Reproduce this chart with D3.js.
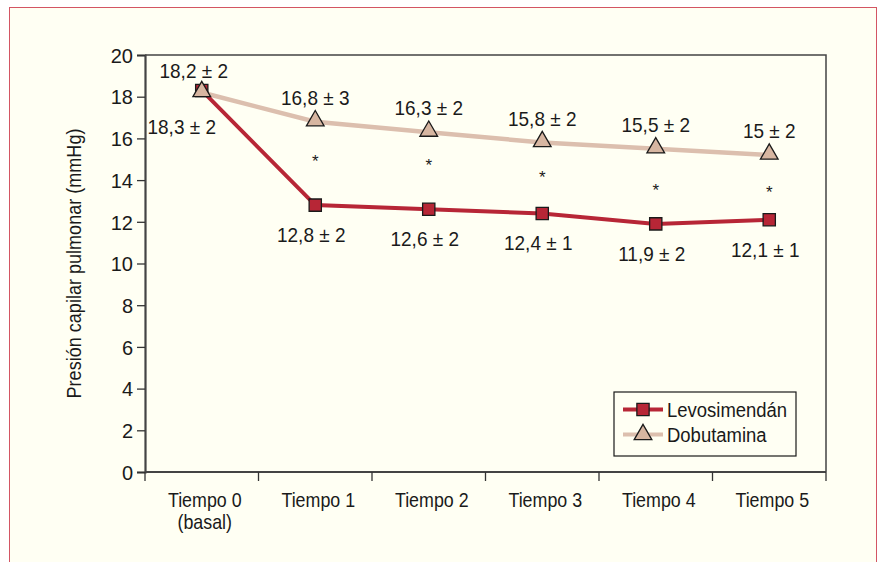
<!DOCTYPE html>
<html>
<head>
<meta charset="utf-8">
<script src="https://cdn.jsdelivr.net/npm/d3@7"></script>
<style>
  html, body { margin: 0; padding: 0; background: #fff; }
  svg { display: block; }
  text { font-family: "Liberation Sans", Arial, sans-serif; fill: #1a1a1a; }
</style>
</head>
<body>
<svg width="878" height="562"></svg>
<script>
// data
const categories = ["Tiempo 0", "Tiempo 1", "Tiempo 2", "Tiempo 3", "Tiempo 4", "Tiempo 5"];
const levo = [18.3, 12.8, 12.6, 12.4, 11.9, 12.1];
const dobu = [18.2, 16.8, 16.3, 15.8, 15.5, 15.2];
const levoLabels = ["18,3 ± 2", "12,8 ± 2", "12,6 ± 2", "12,4 ± 1", "11,9 ± 2", "12,1 ± 1"];
const dobuLabels = ["18,2 ± 2", "16,8 ± 3", "16,3 ± 2", "15,8 ± 2", "15,5 ± 2", "15 ± 2"];
const sigMarks = [null, 15.1, 14.9, 14.35, 13.7, 13.6]; // "*" positions
const yTicks = [0, 2, 4, 6, 8, 10, 12, 14, 16, 18, 20];

const levoColor = "#b72636", dobuColor = "#dcbfae", triFill = "#d7b6a1";

const svg = d3.select("svg");

// narrow-looking text: the condensed face isn't installed, so squeeze horizontally
const at = (px, py, sx) => `translate(${px},${py}) scale(${sx},1)`;

// outer frame (no bottom edge visible)
svg.append("rect").attr("width", 878).attr("height", 562).attr("fill", "#fff");
svg.append("rect").attr("x", 9.5).attr("y", 7.5).attr("width", 867).attr("height", 570)
    .attr("fill", "#fffff3").attr("stroke", "#d35563").attr("stroke-width", 1);

const x = d3.scaleBand().domain(categories).range([145, 826]).padding(0);
const y = d3.scaleLinear().domain([0, 20]).range([472, 55]);
const cx = c => x(c) + x.bandwidth() / 2;

// plot box top/right
svg.append("path")
    .attr("d", `M145,${y(20)}H826V${y(0)}`)
    .attr("fill", "none").attr("stroke", "#444").attr("stroke-width", 1.5);

// y axis
const yAxis = svg.append("g").attr("transform", "translate(145,0)")
    .call(d3.axisLeft(y).tickValues(yTicks).tickSize(8).tickPadding(4));
yAxis.select(".domain").attr("stroke", "#444").attr("stroke-width", 2.2);
yAxis.selectAll(".tick line").attr("stroke", "#333").attr("stroke-width", 1.3);
yAxis.selectAll(".tick text").attr("font-size", 20).attr("dy", "0.36em")
    .style("font-family", "'Liberation Sans', sans-serif").attr("fill", "#1a1a1a");

// x axis: ticks at band edges
const edges = categories.map(c => x(c)).concat([x.range()[1]]);
const xg = svg.append("g");
xg.append("line").attr("x1", 145).attr("x2", 826).attr("y1", y(0)).attr("y2", y(0))
    .attr("stroke", "#444").attr("stroke-width", 2.2);
xg.selectAll("line.tk").data(edges).join("line").attr("class", "tk")
    .attr("x1", d => d).attr("x2", d => d).attr("y1", y(0)).attr("y2", y(0) + 9)
    .attr("stroke", "#333").attr("stroke-width", 1.3);
xg.selectAll("text.cat").data(categories).join("text").attr("class", "cat")
    .attr("transform", d => at(cx(d) + 3, 507, 0.85))
    .attr("text-anchor", "middle").attr("font-size", 21).text(d => d);
xg.append("text").attr("transform", at(cx(categories[0]) + 3, 529, 0.85))
    .attr("text-anchor", "middle").attr("font-size", 21).text("(basal)");

// y title
svg.append("text")
    .attr("transform", `translate(81,${(y(0) + y(20)) / 2}) rotate(-90) scale(0.86,1)`)
    .attr("text-anchor", "middle").attr("font-size", 21)
    .text("Presión capilar pulmonar (mmHg)");

const line = d3.line().x((d, i) => cx(categories[i])).y(d => y(d));

svg.append("path").datum(dobu).attr("d", line)
    .attr("fill", "none").attr("stroke", dobuColor).attr("stroke-width", 4.5);
svg.append("path").datum(levo).attr("d", line)
    .attr("fill", "none").attr("stroke", levoColor).attr("stroke-width", 4);

const square = d3.symbol().type(d3.symbolSquare).size(150);
const tri = d3.symbol().type(d3.symbolTriangle).size(135);

svg.selectAll("path.sq").data(levo).join("path").attr("class", "sq")
    .attr("transform", (d, i) => `translate(${cx(categories[i])},${y(d)})`)
    .attr("d", square).attr("fill", levoColor).attr("stroke", "#1a1a1a").attr("stroke-width", 1.3);
svg.selectAll("path.tri").data(dobu).join("path").attr("class", "tri")
    .attr("transform", (d, i) => `translate(${cx(categories[i])},${y(d) - 1})`)
    .attr("d", tri).attr("fill", triFill).attr("stroke", "#1a1a1a").attr("stroke-width", 1.3);

// value labels
svg.selectAll("text.dl").data(dobu).join("text").attr("class", "dl")
    .attr("transform", (d, i) => at(cx(categories[i]) + (i === 0 ? -8 : 0), y(d) - (i === 0 ? 15 : 17), 0.95))
    .attr("text-anchor", "middle").attr("font-size", 20)
    .text((d, i) => dobuLabels[i]);
svg.selectAll("text.ll").data(levo).join("text").attr("class", "ll")
    .attr("transform", (d, i) => at(cx(categories[i]) + (i === 0 ? -20 : -4), y(d) + (i === 0 ? 44 : 37), 0.95))
    .attr("text-anchor", "middle").attr("font-size", 20)
    .text((d, i) => levoLabels[i]);

// significance marks
const sig = sigMarks.map((v, i) => ({ v, c: categories[i] })).filter(d => d.v !== null);
svg.selectAll("text.sig").data(sig).join("text").attr("class", "sig")
    .attr("x", d => cx(d.c))
    .attr("y", d => y(d.v) + 10)
    .attr("text-anchor", "middle").attr("font-size", 17).text("*");

// legend
const lg = svg.append("g").attr("transform", "translate(614,392)");
lg.append("rect").attr("width", 182).attr("height", 64)
    .attr("fill", "#fffff3").attr("stroke", "#1a1a1a").attr("stroke-width", 1.2);
const items = [
  { name: "Levosimendán", color: levoColor, sym: square, fill: levoColor, dy: 17.5 },
  { name: "Dobutamina", color: dobuColor, sym: tri, fill: triFill, dy: 42.5 }
];
items.forEach(it => {
  lg.append("line").attr("x1", 9).attr("x2", 49).attr("y1", it.dy).attr("y2", it.dy)
      .attr("stroke", it.color).attr("stroke-width", 4);
  lg.append("path").attr("transform", `translate(29,${it.dy})`).attr("d", it.sym)
      .attr("fill", it.fill).attr("stroke", "#1a1a1a").attr("stroke-width", 1.3);
  lg.append("text").attr("transform", at(53, it.dy + 7.5, 0.88)).attr("font-size", 21).text(it.name);
});
</script>
</body>
</html>
